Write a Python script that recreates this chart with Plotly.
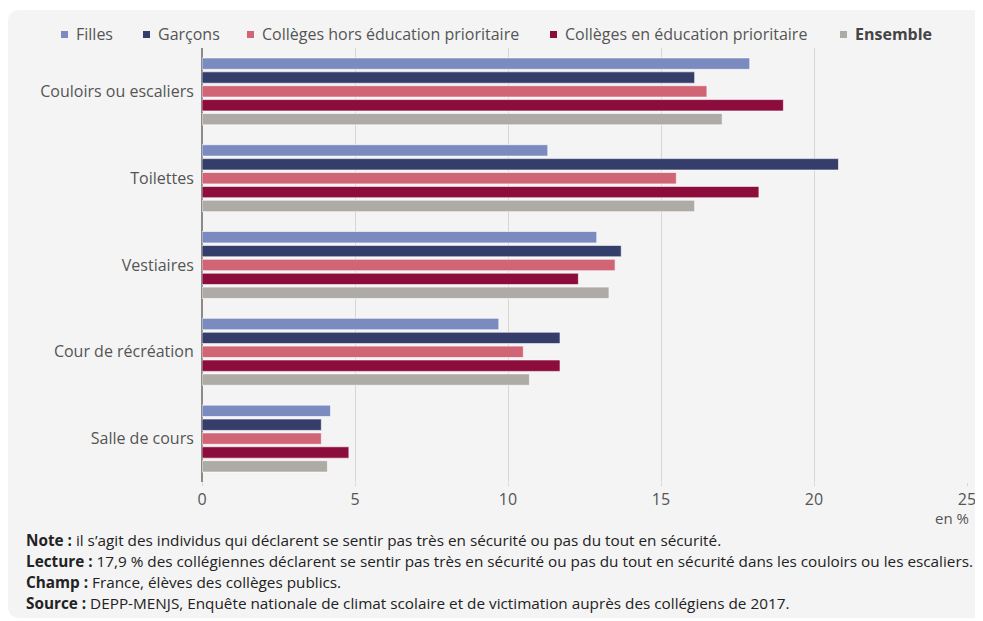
import plotly.graph_objects as go

categories = ["Couloirs ou escaliers", "Toilettes", "Vestiaires", "Cour de récréation", "Salle de cours"]
series_names = ["Filles", "Garçons", "Collèges hors éducation prioritaire", "Collèges en éducation prioritaire", "Ensemble"]
filles = [17.9, 11.3, 12.9, 9.7, 4.2]
garcons = [16.1, 20.8, 13.7, 11.7, 3.9]
hors_ep = [16.5, 15.5, 13.5, 10.5, 3.9]
en_ep = [19.0, 18.2, 12.3, 11.7, 4.8]
ensemble = [17.0, 16.1, 13.3, 10.7, 4.1]
x_ticks = [0, 5, 10, 15, 20, 25]

colors = ["#7b8bc0", "#353d6b", "#d06576", "#8c0c3c", "#aeaba6"]
values = [filles, garcons, hors_ep, en_ep, ensemble]

OFF = 8  # page body margin
W, H = 983, 621
# plot area in page pixels: x 202..967, y 48..482
L = 202 - OFF
T = 48 - OFF
R = W - (967 - OFF)
B = H - (482 - OFF)
pw, ph = W - L - R, H - T - B

def px(x):  # page x -> paper
    return (x - OFF - L) / pw

def py(y):  # page y -> paper
    return (H - B - (y - OFF)) / ph

fig = go.Figure()
for name, vals, col in zip(series_names, values, colors):
    fig.add_trace(go.Bar(
        y=categories, x=vals, name=name, orientation="h",
        marker=dict(color=col, line=dict(color="rgba(255,255,255,0.6)", width=1)),
        showlegend=False,
    ))

# background panel with rounded corners
x0, x1, y0, y1, r = 8, 1000, 10, 618, 12
path = (f"M {px(x0+r)},{py(y0)} L {px(x1-r)},{py(y0)} Q {px(x1)},{py(y0)} {px(x1)},{py(y0+r)} "
        f"L {px(x1)},{py(y1-r)} Q {px(x1)},{py(y1)} {px(x1-r)},{py(y1)} "
        f"L {px(x0+r)},{py(y1)} Q {px(x0)},{py(y1)} {px(x0)},{py(y1-r)} "
        f"L {px(x0)},{py(y0+r)} Q {px(x0)},{py(y0)} {px(x0+r)},{py(y0)} Z")
shapes = [dict(type="path", xref="paper", yref="paper", path=path,
               fillcolor="#f4f4f4", line=dict(width=0), layer="below")]

annotations = []
# legend
leg_x = [64, 146, 250, 553, 843]
for name, col, lx in zip(series_names, colors, leg_x):
    shapes.append(dict(type="rect", xref="paper", yref="paper",
                       x0=px(lx - 3), x1=px(lx + 4), y0=py(38), y1=py(31),
                       fillcolor=col, line=dict(width=0)))
    txt = f"<b>{name}</b>" if name == "Ensemble" else name
    annotations.append(dict(text=txt, xref="paper", yref="paper", x=px(lx + 10), y=py(34),
                            xanchor="left", yanchor="middle", showarrow=False,
                            font=dict(size=16, color="#444" if name == "Ensemble" else "#555")))

annotations.append(dict(text="en %", xref="paper", yref="paper", x=px(971), y=py(518),
                        xanchor="right", yanchor="middle", showarrow=False,
                        font=dict(size=15, color="#555")))

notes = [
    ("Note :", "il s’agit des individus qui déclarent se sentir pas très en sécurité ou pas du tout en sécurité."),
    ("Lecture :", "17,9 % des collégiennes déclarent se sentir pas très en sécurité ou pas du tout en sécurité dans les couloirs ou les escaliers."),
    ("Champ :", "France, élèves des collèges publics."),
    ("Source :", "DEPP-MENJS, Enquête nationale de climat scolaire et de victimation auprès des collégiens de 2017."),
]
for i, (lab, txt) in enumerate(notes):
    annotations.append(dict(text=f"<b>{lab}</b> {txt}", xref="paper", yref="paper",
                            x=px(24), y=py(540 + 21 * i), xanchor="left", yanchor="middle",
                            showarrow=False, font=dict(size=15.3, color="#222")))

fig.update_layout(
    width=W, height=H,
    margin=dict(l=L, r=R, t=T, b=B),
    paper_bgcolor="white", plot_bgcolor="rgba(0,0,0,0)",
    font=dict(family="Open Sans", size=16, color="#555"),
    barmode="group", bargap=0.2, bargroupgap=0.18,
    shapes=shapes, annotations=annotations,
    xaxis=dict(range=[0, 25], tickvals=x_ticks, ticktext=[str(t) for t in x_ticks],
               showgrid=True, gridcolor="#d6d6d6", gridwidth=1,
               zeroline=True, zerolinecolor="#8a8a8a", zerolinewidth=1.5,
               ticks="outside", ticklen=3, tickcolor="#d6d6d6",
               tickfont=dict(size=16, color="#555"), fixedrange=True),
    yaxis=dict(autorange="reversed", ticks="outside", ticklen=4, tickcolor="rgba(0,0,0,0)",
               tickfont=dict(size=16, color="#555"), showgrid=False),
)

fig.write_html("out.html")
